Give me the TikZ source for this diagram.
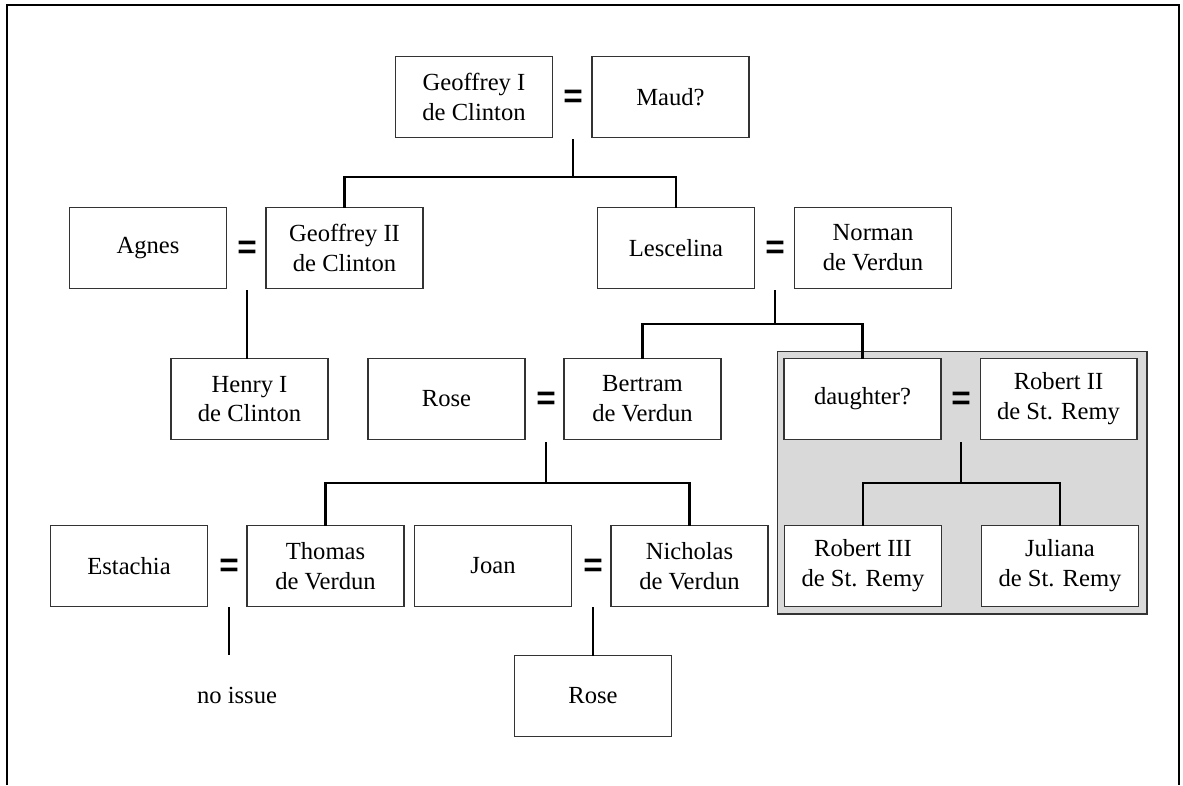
\documentclass[tikz,border=0pt]{standalone}
\usepackage{fontspec}
\setmainfont{Liberation Serif}
\newfontfamily\eqfont{Liberation Sans}
\usetikzlibrary{calc}
\definecolor{boxline}{HTML}{333333}
\definecolor{shade}{HTML}{D9D9D9}
\begin{document}
\begin{tikzpicture}[x=0.02cm,y=-0.02cm,
  person/.style={draw=boxline,line width=0.6pt,fill=white,minimum width=3.14cm,minimum height=1.62cm,align=center,inner sep=2pt,font=\fontsize{14}{17}\selectfont},
  eqsign/.style={inner sep=0pt,font=\eqfont\bfseries\fontsize{19}{19}\selectfont},
  link/.style={line width=1.2pt,line cap=rect},
  plain/.style={inner sep=0pt,font=\fontsize{14}{17}\selectfont}]
\useasboundingbox (0,0) rectangle (1183,785);
% frame
\draw[line width=0.8pt] (7,785) -- (7,5) -- (1179,5) -- (1179,785);
% shaded group
\node[draw=boxline,line width=0.6pt,fill=shade,minimum width=7.4cm,minimum height=5.26cm,inner sep=0pt] (grp) at (962,482.5) {};
% row 1
\node[person] (g1) at (474,97) {Geoffrey I\\de Clinton};
\node[person] (maud) at (670.5,97) {Maud?};
\node[eqsign] (e1) at (573,99) {=};
% row 2
\node[person] (agnes) at (148,248) {Agnes};
\node[person] (g2) at (344.5,248) {Geoffrey II\\de Clinton};
\node[eqsign] (e2) at (247,250) {=};
\node[person] (lesc) at (676,248) {Lescelina};
\node[person] (norman) at (873,248) {Norman\\de Verdun};
\node[eqsign] (e3) at (775,250) {=};
% row 3
\node[person] (henry) at (249.5,399) {Henry I\\de Clinton};
\node[person] (rose) at (446.5,399) {Rose};
\node[person] (bertram) at (642.5,399) {Bertram\\de Verdun};
\node[eqsign] (e4) at (546,401) {=};
\node[person] (daughter) at (862.5,399) {daughter?};
\node[person] (rob2) at (1058.5,399) {Robert II\\de St. Remy};
\node[eqsign] (e5) at (961,401) {=};
% row 4
\node[person] (estachia) at (129,566) {Estachia};
\node[person] (thomas) at (325.5,566) {Thomas\\de Verdun};
\node[eqsign] (e6) at (229,568) {=};
\node[person] (joan) at (493,566) {Joan};
\node[person] (nicholas) at (689.5,566) {Nicholas\\de Verdun};
\node[eqsign] (e7) at (593,568) {=};
\node[person] (rob3) at (863,566) {Robert III\\de St. Remy};
\node[person] (juliana) at (1060,566) {Juliana\\de St. Remy};
% row 5
\node[person] (rose2) at (593,696) {Rose};
\node[plain] (noissue) at (237,695) {no issue};
\coordinate (endnoissue) at (229,654);
% connectors
\draw[link] ($(e1 |- g1.south)+(0,2)$) -- ++(0,37) coordinate (j1);
\draw[link] (g2.north) |- (j1) -| (lesc.north);
\draw[link] ($(e2 |- g2.south)+(0,2)$) -- (e2 |- henry.north);
\draw[link] ($(e3 |- norman.south)+(0,2)$) -- ++(0,33) coordinate (j3);
\draw[link] (bertram.north) |- (j3) -| (daughter.north);
\draw[link] ($(e4 |- bertram.south)+(0,3)$) -- ++(0,40) coordinate (j4);
\draw[link] (thomas.north) |- (j4) -| (nicholas.north);
\draw[link] ($(e5 |- rob2.south)+(0,3)$) -- ++(0,40) coordinate (j5);
\draw[link] (rob3.north) |- (j5) -| (juliana.north);
\draw[link] ($(e6 |- thomas.south)+(0,1)$) -- (endnoissue);
\draw[link] ($(e7 |- nicholas.south)+(0,1)$) -- (e7 |- rose2.north);
\end{tikzpicture}
\end{document}
